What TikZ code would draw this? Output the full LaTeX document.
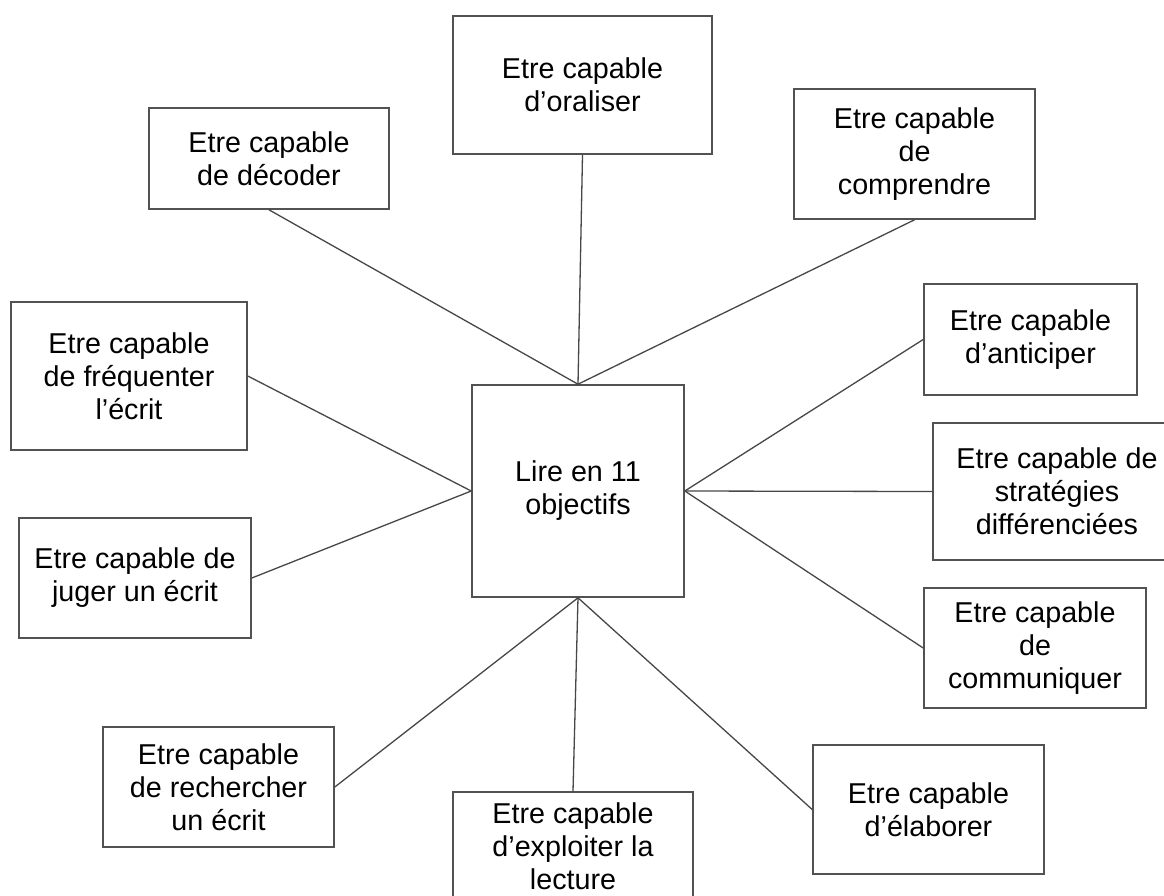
\documentclass[tikz,border=0pt]{standalone}
\usepackage{fontspec}
\setmainfont{Liberation Sans}
\begin{document}
\begin{tikzpicture}[x=1pt,y=-1pt,
  box/.style={draw=black!68, line width=1.6pt, fill=white, inner sep=0pt, align=center,
    font=\fontsize{28.7}{33}\selectfont, text=black},
  link/.style={draw=black!72, line width=1.3pt}]
\useasboundingbox (0,0) rectangle (1164,895);
\clip (0,0) rectangle (1164,895);
\fill[white] (0,0) rectangle (1164,895);
\node[box, minimum width=259pt, minimum height=138pt] (oral) at (582.5,85) {Etre capable\\d’oraliser};
\node[box, minimum width=240pt, minimum height=101pt] (decod) at (269,158.5) {Etre capable\\de décoder};
\node[box, minimum width=241pt, minimum height=130pt] (compr) at (914.5,154) {Etre capable\\de\\comprendre};
\node[box, minimum width=236pt, minimum height=148pt] (frequ) at (129,376) {Etre capable\\de fréquenter\\l’écrit};
\node[box, minimum width=212pt, minimum height=212pt] (center) at (578,491) {Lire en 11\\objectifs};
\node[box, minimum width=213pt, minimum height=111pt] (antic) at (1030.5,339.5) {Etre capable\\d’anticiper};
\node[box, minimum width=248pt, minimum height=137pt] (strat) at (1057,491.5) {Etre capable de\\stratégies\\différenciées};
\node[box, minimum width=232pt, minimum height=120pt] (juger) at (135,578) {Etre capable de\\juger un écrit};
\node[box, minimum width=222pt, minimum height=120pt] (commu) at (1035,648) {Etre capable\\de\\communiquer};
\node[box, minimum width=231pt, minimum height=120pt] (reche) at (218.5,787) {Etre capable\\de rechercher\\un écrit};
\node[box, minimum width=240pt, minimum height=108pt] (explo) at (573,846) {Etre capable\\d’exploiter la\\lecture};
\node[box, minimum width=231pt, minimum height=129pt] (elab) at (928.5,809.5) {Etre capable\\d’élaborer};
\draw[link] (decod.south) -- (center.north);
\draw[link] (oral.south) -- (center.north);
\draw[link] (compr.south) -- (center.north);
\draw[link] (frequ.east) -- (center.west);
\draw[link] (juger.east) -- (center.west);
\draw[link] (antic.west) -- (center.east);
\draw[link] (strat.west) -- (center.east);
\draw[link] (commu.west) -- (center.east);
\draw[link] (reche.east) -- (center.south);
\draw[link] (explo.north) -- (center.south);
\draw[link] (elab.west) -- (center.south);
\end{tikzpicture}
\end{document}
